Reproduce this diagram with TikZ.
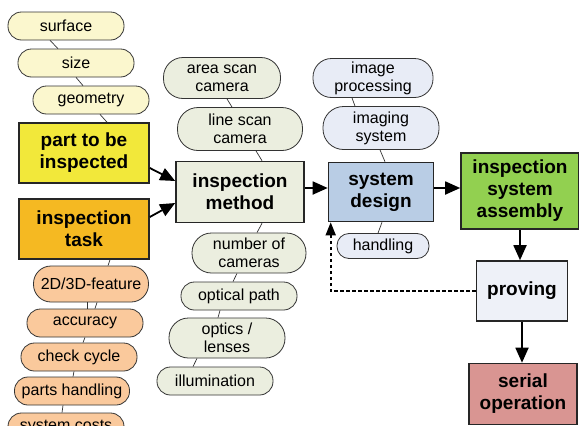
\documentclass[tikz,border=0pt]{standalone}
\usepackage{fontspec}
\setmainfont{Liberation Sans}
\usetikzlibrary{arrows.meta,positioning}

\definecolor{pillY}{HTML}{FBF7CE}
\definecolor{pillO}{HTML}{FAC99C}
\definecolor{pillG}{HTML}{EBEEDF}
\definecolor{pillB}{HTML}{E8ECF6}
\definecolor{partY}{HTML}{F2E83A}
\definecolor{taskO}{HTML}{F5B922}
\definecolor{designB}{HTML}{B9CDE5}
\definecolor{asmG}{HTML}{92D050}
\definecolor{provW}{HTML}{EEF1F8}
\definecolor{serialR}{HTML}{D99592}

\begin{document}
\begin{tikzpicture}[x=1pt,y=-1pt,>=Triangle,
  box/.style={draw=black!85,line width=1.6pt,align=center,inner sep=1pt,
    font=\bfseries\fontsize{19}{22}\selectfont},
  pill/.style={draw=black!80,line width=.8pt,rounded corners=13.5pt,align=center,
    inner sep=1pt,minimum height=28pt,font=\fontsize{16}{18}\selectfont},
  pilltwo/.style={pill,rounded corners=19.5pt,minimum height=41pt},
  link/.style={draw=black!80,line width=.7pt},
  arrow/.style={line width=1.8pt,arrows={-Triangle[length=15pt,width=13pt]}},
  back/.style={line width=1.6pt,dash pattern=on 3.5pt off 2.5pt,
    arrows={-Triangle[length=13pt,width=10pt]}}]
  \clip (0,0) rectangle (579,426);
  \fill[white] (0,0) rectangle (579,426);
  % part to be inspected
  \node[pill,fill=pillY,minimum width=116pt] (surf) at (66,26) {surface};
  \node[pill,fill=pillY,minimum width=116pt] (size) at (76,63) {size};
  \node[pill,fill=pillY,minimum width=116pt] (geom) at (91,100) {geometry};
  \node[box,fill=partY,minimum width=130pt,minimum height=60pt] (part) at (84,153) {part to be\\inspected};
  % inspection task
  \node[box,fill=taskO,minimum width=130pt,minimum height=60pt] (task) at (84,229) {inspection\\task};
  \node[pill,fill=pillO,minimum width=115pt,minimum height=36pt,rounded corners=17.5pt] (feat) at (91,284) {2D/3D-feature};
  \node[pill,fill=pillO,minimum width=116pt] (acc) at (85,323) {accuracy};
  \node[pill,fill=pillO,minimum width=116pt] (cycle) at (79,357) {check cycle};
  \node[pill,fill=pillO,minimum width=115pt] (phand) at (72,391) {parts handling};
  \node[pill,fill=pillO,minimum width=116pt] (cost) at (66,427) {system costs};
  % inspection method
  \node[pilltwo,fill=pillG,minimum width=117pt] (area) at (222,78) {area scan\\camera};
  \node[pilltwo,fill=pillG,minimum width=125pt,minimum height=43pt,rounded corners=20.5pt] (line) at (240,129) {line scan\\camera};
  \node[box,fill=pillG,minimum width=128pt,minimum height=61pt] (method) at (240,192) {inspection\\method};
  \node[pilltwo,fill=pillG,minimum width=114pt,minimum height=40pt] (ncam) at (249,253) {number of\\cameras};
  \node[pill,fill=pillG,minimum width=116pt] (opath) at (239,296) {optical path};
  \node[pilltwo,fill=pillG,minimum width=116pt,minimum height=40pt] (optics) at (227,338) {optics /\\lenses};
  \node[pill,fill=pillG,minimum width=116pt] (illum) at (215,381) {illumination};
  % system design
  \node[pilltwo,fill=pillB,minimum width=120pt,minimum height=39pt,rounded corners=18.5pt] (improc) at (373,78) {image\\processing};
  \node[pilltwo,fill=pillB,minimum width=116pt,minimum height=43pt,rounded corners=20.5pt] (imsys) at (381,128) {imaging\\system};
  \node[box,fill=designB,minimum width=105pt,minimum height=59pt] (design) at (381,192) {system\\design};
  \node[pill,fill=pillB,minimum width=92pt,minimum height=25pt,rounded corners=12pt] (hand) at (383,246) {handling};
  % assembly and proving
  \node[box,fill=asmG,minimum width=118pt,minimum height=76pt] (assembly) at (520,191) {inspection\\system\\assembly};
  \node[box,fill=provW,minimum width=91pt,minimum height=60pt] (proving) at (522,291) {proving};
  \node[box,fill=serialR,minimum width=108pt,minimum height=61pt] (serial) at (523,394) {serial\\operation};

  \draw[link] ([xshift=-16pt]surf.south) -- ([xshift=-18pt]size.north);
  \draw[link] (size.south) -- ([xshift=-8pt]geom.north);
  \draw[link] ([xshift=9pt]geom.south) -- ([xshift=23pt]part.north);
  \draw[link] ([xshift=26pt]task.south) -- ([xshift=17pt]feat.north);
  \draw[link] ([xshift=-4pt]feat.south) -- ([xshift=2pt]acc.north);
  \draw[link] ([xshift=6pt]feat.south) -- ([xshift=10pt]acc.north);
  \draw[link] (acc.south) -- ([xshift=4pt]cycle.north);
  \draw[link] ([xshift=-5pt]cycle.south) -- ([xshift=1pt]phand.north);
  \draw[link] ([xshift=-9pt]phand.south) -- ([xshift=-4pt]cost.north);
  \draw[link] ([xshift=5pt]area.south) -- ([xshift=-8pt]line.north);
  \draw[link] ([xshift=16pt]line.south) -- ([xshift=22pt]method.north);
  \draw[link] ([xshift=22pt]method.south) -- ([xshift=8pt]ncam.north);
  \draw[link] ([xshift=-12pt]ncam.south) -- ([xshift=-6pt]opath.north);
  \draw[link] ([xshift=-19pt]opath.south) -- ([xshift=-9pt]optics.north);
  \draw[link] ([xshift=-30pt]optics.south) -- ([xshift=-22pt]illum.north);
  \draw[link] ([xshift=-21pt]improc.south) -- ([xshift=-26pt]imsys.north);
  \draw[link] ([xshift=-1pt]imsys.south) -- ([xshift=4pt]design.north);
  \draw[link] ([xshift=1pt]design.south) -- ([xshift=-5pt]hand.north);

  \draw[arrow] ([yshift=-15pt]part.east) -- ([yshift=11pt]method.west);
  \draw[arrow] ([yshift=12pt]task.east) -- ([yshift=-11pt]method.west);
  \draw[arrow] ([yshift=4pt]method.east) -- ([yshift=4pt]design.west);
  \draw[arrow] ([yshift=4pt]design.east) -- ([yshift=4pt]design.east -| assembly.west);
  \draw[arrow] (assembly.south) -- (assembly.south |- proving.north);
  \draw[arrow] (proving.south) -- (proving.south |- serial.north);
  \draw[back] (proving.west) -| ([xshift=3pt]design.south west);
\end{tikzpicture}
\end{document}
